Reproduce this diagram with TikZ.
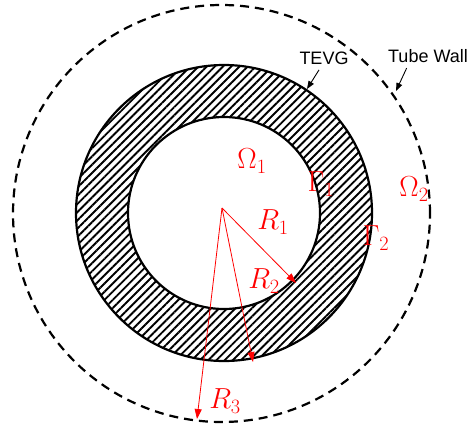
\RequirePackage{fix-cm}
\documentclass[tikz,border=0pt]{standalone}
\usepackage{amsmath}
\usepackage{fontspec}
\setsansfont{Liberation Sans}
\usepackage{tikz}
\usetikzlibrary{arrows.meta,patterns.meta,positioning}

\begin{document}
\begin{tikzpicture}[
  x=1pt, y=-1pt,
  ring/.style={draw, line width=2.2pt},
  hatch/.style={pattern={Lines[angle=45, distance=5.8pt, line width=1.9pt]}},
  wall/.style={draw, line width=2.2pt, dash pattern=on 9pt off 6pt},
  radius arr/.style={red, line width=0.8pt, -{Triangle[length=10pt, width=7pt]}},
  callout/.style={black, line width=0.9pt, -{Triangle[length=8pt, width=6pt]}},
  sym/.style={red, font=\fontsize{29}{32}\selectfont},
  tag/.style={font=\sffamily\fontsize{18}{20}\selectfont}
]
\useasboundingbox (0,0) rectangle (473,429);

\coordinate (c) at (224,213);
\coordinate (cw) at (221.5,213.5);
\coordinate (o) at (222,208);

% TEVG ring and tube wall
\fill[hatch, even odd rule] (c) circle (148pt) (c) circle (96pt);
\draw[ring] (c) circle (148pt);
\draw[ring] (c) circle (96pt);
\draw[wall] (cw) circle (208.5pt);

% radii
\coordinate (r1end) at (296,283);
\coordinate (r2end) at (253,362);
\coordinate (r3end) at (197,419);
\draw[radius arr] (o) -- (r1end);
\draw[radius arr] (o) -- (r2end);
\draw[radius arr] (o) -- (r3end);

\node[sym] (om1) at (252,161) {$\Omega_1$};
\node[sym] (om2) at (414,189) {$\Omega_2$};
\node[sym] (ga1) at (321,184) {$\Gamma_1$};
\node[sym] (ga2) at (376,238) {$\Gamma_2$};
\node[sym] (rad1) at (273,222) {$R_1$};
\node[sym] (rad2) at (264,281) {$R_2$};
\node[sym] (rad3) at (225,401) {$R_3$};

% callouts
\node[tag] (tevg) at (324,58) {TEVG};
\node[tag] (tube) at (428,56) {Tube Wall};
\coordinate (tevgpt) at (307,89);
\coordinate (tubept) at (396,91);
\draw[callout] (tevg.south) ++(-5,2) -- (tevgpt);
\draw[callout] (tube.south west) ++(22,2) -- (tubept);
\end{tikzpicture}
\end{document}
